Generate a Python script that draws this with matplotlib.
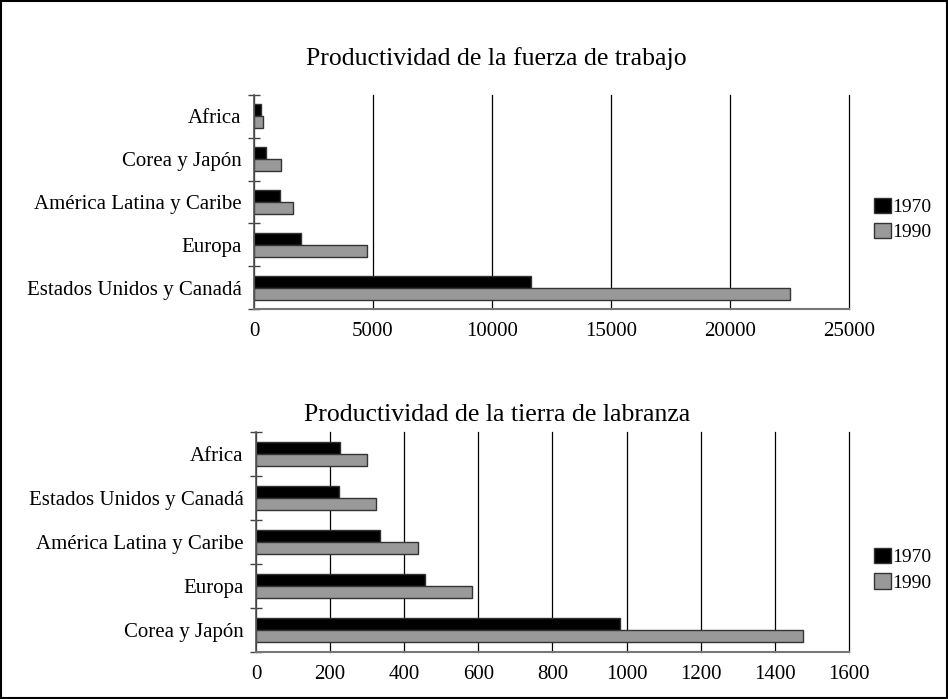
import matplotlib.pyplot as plt
from matplotlib.patches import Patch, Rectangle

plt.rcParams['font.family'] = ['Liberation Serif', 'DejaVu Serif']

# Productividad de la fuerza de trabajo (orden de arriba hacia abajo)
cat_trabajo = ["Africa", "Corea y Japón", "América Latina y Caribe", "Europa",
               "Estados Unidos y Canadá"]
trabajo_1970 = [310, 500, 1080, 1960, 11620]
trabajo_1990 = [400, 1150, 1660, 4750, 22510]
ticks_trabajo = [0, 5000, 10000, 15000, 20000, 25000]

# Productividad de la tierra de labranza
cat_tierra = ["Africa", "Estados Unidos y Canadá", "América Latina y Caribe",
              "Europa", "Corea y Japón"]
tierra_1970 = [226, 223, 335, 456, 981]
tierra_1990 = [300, 323, 436, 583, 1477]
ticks_tierra = [0, 200, 400, 600, 800, 1000, 1200, 1400, 1600]

anios = ["1970", "1990"]
negro = "black"
gris = "#999999"
borde = "#333333"

fig = plt.figure(figsize=(9.48, 6.99), dpi=100)
fig.patches.append(Rectangle((0.001, 0.001), 0.998, 0.998, transform=fig.transFigure,
                             fill=False, edgecolor="black", linewidth=1.5))


def grafico(rect, titulo, cats, v70, v90, ticks, y_titulo, y_leyenda):
    ax = fig.add_axes(rect)
    n = len(cats)
    pos = list(range(n))
    h = 0.28
    ax.barh([p - h / 2 for p in pos], v70, height=h, color=negro,
            edgecolor=borde, linewidth=1)
    ax.barh([p + h / 2 for p in pos], v90, height=h, color=gris,
            edgecolor=borde, linewidth=1)
    ax.set_ylim(n - 0.5, -0.5)
    ax.set_xlim(ticks[0], ticks[-1])
    ax.set_xticks(ticks)
    ax.set_yticks(pos)
    ax.set_yticklabels(cats)
    ax.set_yticks([p - 0.5 for p in range(n + 1)], minor=True)
    ax.tick_params(axis='y', which='major', length=0, pad=9, labelsize=15)
    ax.tick_params(axis='y', which='minor', length=8, direction='inout',
                   color="#444444", width=1)
    ax.tick_params(axis='x', length=0, pad=9, labelsize=15)
    ax.grid(axis='x', color='black', linewidth=0.9)
    for linea in ax.get_xgridlines():
        linea.set_clip_on(False)
    ax.set_axisbelow(True)
    ax.spines['top'].set_visible(False)
    ax.spines['right'].set_visible(False)
    ax.spines['left'].set_color("#555555")
    ax.spines['bottom'].set_color("#777777")
    ax.spines['left'].set_linewidth(1.2)
    ax.spines['bottom'].set_linewidth(1.5)
    fig.text(0.524, y_titulo, titulo, ha='center', va='center', fontsize=18.5)
    manejos = [Patch(facecolor=negro, edgecolor=borde),
               Patch(facecolor=gris, edgecolor=borde)]
    fig.legend(manejos, anios, loc='center left', bbox_to_anchor=(0.912, y_leyenda),
               frameon=False, fontsize=14, handlelength=0.85, handleheight=0.85,
               handletextpad=0.05, labelspacing=0.35, borderpad=0)
    return ax


grafico([0.2679, 0.5579, 0.6276, 0.3062], "Productividad de la fuerza de trabajo",
        cat_trabajo, trabajo_1970, trabajo_1990, ticks_trabajo, 0.916, 0.686)
grafico([0.2700, 0.0672, 0.6255, 0.3147], "Productividad de la tierra de labranza",
        cat_tierra, tierra_1970, tierra_1990, ticks_tierra, 0.406, 0.185)

fig.savefig("out.png", dpi=100)
